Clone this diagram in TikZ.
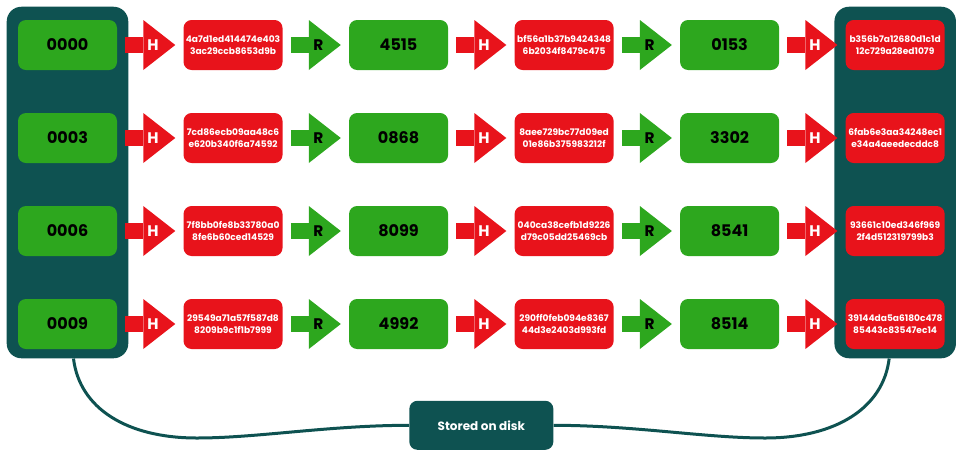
\documentclass[tikz,border=0pt]{standalone}
\usepackage{fontspec}
\setmainfont{Poppins}
\usetikzlibrary{arrows.meta, positioning, calc, fit, backgrounds}
\definecolor{cteal}{HTML}{0E5251}
\definecolor{cgreen}{HTML}{2DA71E}
\definecolor{cred}{HTML}{E8131B}
\tikzset{
  code/.style={fill=cgreen, rounded corners=6pt, minimum width=74.25pt, minimum height=37.5pt, inner sep=0pt, font=\bfseries\fontsize{12}{14}\selectfont},
  hash/.style={code, fill=cred, text=white, align=center, font=\bfseries\fontsize{6.8}{9}\selectfont},
  blockarrow/.style={draw=#1, line width=12pt, shorten <=6pt, shorten >=6pt, -{Triangle[width=37.5pt, length=24pt, line width=0pt]}},
  hop/.style={pos=0.54, font=\bfseries\fontsize{11.5}{13}\selectfont},
  panel/.style={fill=cteal, rounded corners=11pt, inner sep=8.25pt},
  link/.style={draw=cteal, line width=2.25pt},
  disk/.style={fill=cteal, rounded corners=6pt, text=white, minimum width=108pt, minimum height=36.75pt, font=\bfseries\fontsize{9}{11}\selectfont},
}

\begin{document}
\begin{tikzpicture}[x=0.75pt, y=-0.75pt]
  \useasboundingbox (0,0) rectangle (960,465);
  \foreach \r/\s/\ha/\hb/\p/\hc/\hd/\q/\he/\hf in {
    1/0000/4a7d1ed414474e403/3ac29ccb8653d9b/4515/bf56a1b37b9424348/6b2034f8479c475/0153/b356b7a12680d1c1d/12c729a28ed1079,
    2/0003/7cd86ecb09aa48c6/e620b340f6a74592/0868/8aee729bc77d09ed/01e86b375983212f/3302/6fab6e3aa34248ec1/e34a4aeedecddc8,
    3/0006/7f8bb0fe8b33780a0/8fe6b60ced14529/8099/040ca38cefb1d9226/d79c05dd25469cb/8541/93661c10ed346f969/2f4d512319799b3,
    4/0009/29549a71a57f587d8/8209b9c1f1b7999/4992/290ff0feb094e8367/44d3e2403d993fd/8514/39144da5a6180c478/85443c83547ec14}{
    \node[code] (c\r-1) at (67.5,{45+93*(\r-1)}) {\s};
    \node[hash, right=49.5pt of c\r-1] (c\r-2) {\ha\\\hb};
    \node[code, right=49.5pt of c\r-2] (c\r-3) {\p};
    \node[hash, right=49.5pt of c\r-3] (c\r-4) {\hc\\\hd};
    \node[code, right=49.5pt of c\r-4] (c\r-5) {\q};
    \node[hash, right=49.5pt of c\r-5] (c\r-6) {\he\\\hf};
    \draw[blockarrow=cred] (c\r-1) -- (c\r-2) node[hop, text=white] {H};
    \draw[blockarrow=cgreen] (c\r-2) -- (c\r-3) node[hop] {R};
    \draw[blockarrow=cred] (c\r-3) -- (c\r-4) node[hop, text=white] {H};
    \draw[blockarrow=cgreen] (c\r-4) -- (c\r-5) node[hop] {R};
    \draw[blockarrow=cred] (c\r-5) -- (c\r-6) node[hop, text=white] {H};
  }
  \begin{scope}[on background layer]
    \node[panel, fit=(c1-1)(c4-1), yshift=1.5pt] (lp) {};
    \node[panel, fit=(c1-6)(c4-6), yshift=1.5pt] (rp) {};
  \end{scope}
  \coordinate (mid) at ($(lp.south)!0.5!(rp.south)$);
  \node[disk, below=31.5pt of mid] (disk) {Stored on disk};
  \draw[link] ([xshift=4.5pt]lp.south) .. controls +(6,50) and +(-70,0) .. (197,438) .. controls +(60,0) and +(-80,0) .. (disk.west);
  \draw[link] ([xshift=-4.5pt]rp.south) .. controls +(-6,50) and +(70,0) .. (765,438) .. controls +(-60,0) and +(80,0) .. (disk.east);
\end{tikzpicture}
\end{document}
